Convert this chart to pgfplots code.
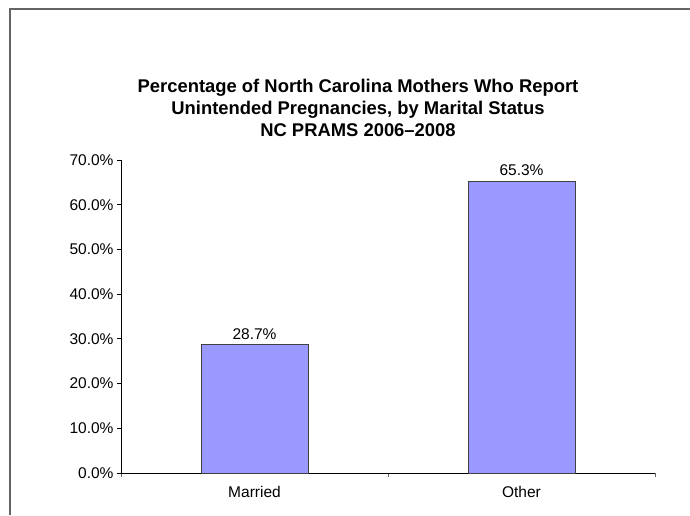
\documentclass[border=0pt]{standalone}
\usepackage{pgfplots}
\pgfplotsset{compat=1.18}
\usepackage{fontspec}
\setmainfont{Liberation Sans}
\definecolor{barfill}{HTML}{9999FF}
\definecolor{framegray}{HTML}{646464}
\begin{document}
\begin{tikzpicture}[x=1pt,y=1pt]
\useasboundingbox (0pt,0pt) rectangle (690pt,515pt);
\draw[framegray, line width=2pt] (10pt,0pt) -- (10pt,506pt) -- (690pt,506pt);
\node[font=\fontsize{18.4}{22}\selectfont\bfseries, anchor=base] at (358pt,422.3pt) {Percentage of North Carolina Mothers Who Report};
\node[font=\fontsize{18.4}{22}\selectfont\bfseries, anchor=base] at (358pt,400pt) {Unintended Pregnancies, by Marital Status};
\node[font=\fontsize{18.4}{22}\selectfont\bfseries, anchor=base] at (358pt,378pt) {NC PRAMS 2006--2008};
\begin{axis}[
  at={(121pt,42pt)}, anchor=south west,
  scale only axis, width=534pt, height=313pt,
  xmin=-0.5, xmax=1.5, ymin=0, ymax=70,
  axis lines*=left,
  axis line style={black, line width=0.8pt},
  tick align=outside,
  major tick length=4pt,
  tick style={black, line width=0.8pt},
  ytick={0,10,20,30,40,50,60,70},
  yticklabels={0.0\%,10.0\%,20.0\%,30.0\%,40.0\%,50.0\%,60.0\%,70.0\%},
  xtick={-0.5,0.5,1.5},
  xticklabels={},
  x tick style={black!60, line width=0.8pt},
  extra x ticks={0,1},
  extra x tick labels={Married,Other},
  extra x tick style={tick style={draw=none}, major tick length=0pt},
  xticklabel style={yshift=-10pt},
  tick label style={font=\fontsize{15.5}{18}\selectfont},
  /pgf/number format/assume math mode=true,
  ybar, bar width=0.4,
  nodes near coords={\pgfmathprintnumber[fixed,fixed zerofill,precision=1]{\pgfplotspointmeta}\%},
  every node near coord/.append style={font=\fontsize{15.5}{18}\selectfont, yshift=1.5pt, black},
  clip=false,
]
\addplot[fill=barfill, draw=black!75, line width=0.8pt] coordinates {(0,28.7) (1,65.3)};
\end{axis}
\end{tikzpicture}
\end{document}
